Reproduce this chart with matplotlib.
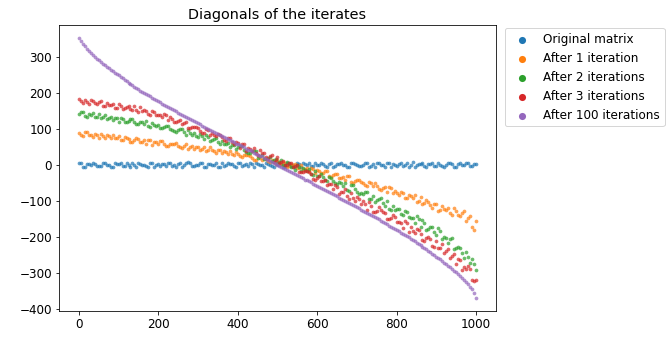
import matplotlib
matplotlib.use("Agg")
import matplotlib.pyplot as plt

plt.rcParams['font.size'] = 12

# diagonal entry index, every 5 entries
index = list(range(0, 1001, 10))
index_mid = list(range(5, 1000, 10))

original = [6, -6, 3, -2, 1, -4, 5, -1, -6, 4, 2, -3, 6, -5, 0, 4, -1, -4, 6, -7,
            3, 1, -4, 5, -2, 1, -6, 4, 6, -3, -1, 4, -5, 2, 0, -6, 6, -1, 3, -4,
            5, -4, 1, 4, -6, 2, -2, 6, -1, -5, 1,
            2, -5, 6, -1, 4, -6, 1, 5, -4, -1, 6, -4, 3, -6, 1, 4, -2, -7, 6, 0,
            -3, 5, -5, 2, 4, -1, -6, 6, 1, -4, 4, -1, -6, 7, -2, 3, -4, 1, 5, -3,
            0, -6, 4, 2, -5, 6, -1, 4, -4, 1]
original_mid = [4, -6, 1, 6, -3, -4, 5, -1, -6, 2, 4, -4, -1, 6, -5, 3, -2, -6, 6, 0,
                -4, 1, 5, -3, -6, 4, -1, 7, -4, -2, 4, -6, 2, -1, 6, -5, -3, 4, 1, -6,
                5, -1, -4, 3, 6, -2, -6, 1, -4, 4, 0, -5, 6, -3, -6, 2, 4, -1, -4, 6,
                -2, 1, -6, 4, -4, 3, -1, -6, 5, 1, -4, 0, 6, -3, -5, 4, -1, 6, -6, -2,
                3, -4, 5, -1, -7, 2, 4, -5, 1, -3, 6, -4, 0, 4, -6, 1, -2, 5, -4, 3]

iter1 = [89, 81, 91, 83, 86, 75, 81, 84, 74, 75, 81, 69, 75, 64, 70, 71, 64, 58, 69, 62,
         58, 65, 53, 59, 59, 53, 46, 57, 50, 44, 50, 43, 37, 48, 38, 41, 32, 35, 38, 28,
         29, 21, 28, 24, 14, 23, 14, 17, 7, 9, 12, -2, 5, -3, -2, -9, -2, -11, -18, -12,
         -15, -24, -16, -32, -29, -27, -37, -42, -32, -51, -41, -47, -56, -48, -60, -58,
         -70, -62, -63, -78, -78, -76, -91, -85, -92, -104, -89, -106, -104, -119, -109,
         -127, -122, -121, -140, -129, -142, -128, -149, -172, -156]
iter1_mid = [83, 91, 84, 77, 84, 85, 75, 79, 83, 73, 70, 76, 72, 64, 73, 64, 68, 70, 56, 62,
             65, 58, 53, 59, 61, 50, 53, 43, 52, 49, 41, 49, 40, 41, 33, 42, 38, 30, 31, 36,
             23, 27, 27, 18, 12, 18, 20, 10, 13, 3, 5, 8, -5, 1, 2, -8, -12, -10, -9, -22,
             -16, -22, -17, -33, -26, -37, -34, -30, -47, -45, -41, -50, -60, -52, -52, -66,
             -64, -77, -65, -73, -83, -79, -93, -88, -85, -102, -109, -98, -112, -110,
             -128, -114, -125, -135, -121, -139, -134, -157, -141, -180]

iter2 = [141, 146, 134, 139, 133, 141, 132, 126, 133, 129, 120, 128, 120, 127, 119, 114,
         118, 121, 106, 110, 111, 101, 108, 99, 95, 97, 99, 84, 87, 89, 78, 80, 82, 65, 71,
         63, 66, 58, 50, 55, 48, 52, 36, 32, 37, 20, 26, 15, 22, 12, 2, 14, -1, 3, -6, -2,
         -17, -14, -11, -28, -30, -27, -43, -34, -45, -54, -52, -52, -74, -55, -77, -78,
         -75, -95, -88, -99, -93, -114, -124, -114, -124, -138, -128, -146, -147, -142,
         -173, -163, -178, -172, -196, -183, -202, -216, -204, -230, -231, -258, -257,
         -262, -293]
iter2_mid = [146, 135, 140, 144, 133, 130, 137, 129, 123, 129, 129, 120, 121, 126, 114, 120,
             113, 107, 117, 109, 103, 106, 107, 97, 91, 98, 90, 96, 83, 81, 85, 72, 76, 70,
             73, 59, 58, 61, 54, 44, 52, 40, 32, 37, 37, 23, 15, 20, 11, 17, 8, -1, 9, -6,
             -14, -6, -9, -18, -26, -17, -32, -33, -45, -37, -52, -48, -58, -71, -57, -67,
             -82, -80, -75, -94, -103, -94, -107, -100, -126, -126, -123, -140, -131, -147,
             -162, -152, -154, -180, -174, -188, -177, -205, -204, -205, -234, -227, -245,
             -242, -273, -275]

iter3 = [182, 172, 175, 181, 171, 173, 163, 171, 167, 159, 168, 156, 161, 155, 162, 146,
         150, 150, 139, 147, 138, 132, 138, 132, 118, 122, 114, 118, 102, 104, 102, 87, 98,
         83, 82, 85, 76, 65, 73, 59, 60, 58, 39, 43, 46, 28, 32, 22, 25, 8, 21, 9, -1, 5,
         -7, -1, -21, -17, -20, -40, -36, -46, -41, -53, -67, -63, -77, -66, -95, -92, -89,
         -110, -108, -104, -132, -129, -126, -134, -152, -140, -160, -161, -156, -187,
         -185, -179, -191, -213, -202, -225, -211, -232, -246, -235, -252, -276, -265,
         -285, -281, -319, -321]
iter3_mid = [176, 181, 170, 176, 170, 177, 164, 166, 170, 157, 164, 158, 163, 151, 152, 160,
             151, 141, 148, 137, 139, 140, 123, 127, 118, 124, 117, 103, 105, 106, 95, 87, 96,
             87, 79, 82, 69, 75, 64, 62, 47, 57, 47, 37, 34, 41, 32, 15, 26, 14, 4, 11, 0, 5,
             -4, -21, -21, -17, -26, -41, -30, -46, -57, -54, -57, -80, -75, -86, -78, -102,
             -96, -100, -125, -114, -130, -117, -130, -150, -149, -144, -158, -176, -161,
             -174, -189, -180, -210, -203, -205, -229, -231, -221, -239, -260, -249, -261,
             -291, -290, -289, -324]

iter100 = [352, 336, 322, 310, 300, 290, 281, 272, 264, 256, 248, 240, 232, 225, 217, 210,
           203, 196, 190, 183, 177, 170, 164, 157, 151, 145, 139, 133, 127, 121, 115, 109,
           103, 97, 91, 85, 79, 74, 68, 62, 57, 51, 45, 40, 34, 28, 23, 17, 11, 6, 0, -6,
           -11, -18, -24, -29, -35, -41, -46, -53, -59, -64, -70, -76, -81, -88, -94, -100,
           -106, -112, -118, -125, -131, -137, -143, -149, -156, -162, -169, -175, -182,
           -189, -196, -202, -209, -216, -224, -231, -239, -247, -255, -263, -272, -280,
           -289, -299, -309, -319, -332, -346, -370]
iter100_mid = [343, 329, 316, 305, 295, 285, 276, 268, 260, 252, 244, 236, 228, 221, 213,
               206, 199, 193, 186, 180, 173, 167, 160, 154, 148, 142, 136, 130, 124, 118,
               112, 106, 100, 94, 88, 82, 76, 71, 65, 59, 54, 48, 42, 37, 31, 25, 20, 14, 8,
               3, -3, -8, -14, -21, -26, -32, -38, -43, -49, -56, -61, -67, -73, -78, -84,
               -91, -97, -103, -109, -115, -121, -128, -134, -140, -146, -152, -159, -165,
               -172, -178, -185, -192, -199, -205, -212, -220, -227, -235, -243, -251, -259,
               -267, -276, -284, -294, -304, -314, -325, -339, -357]

series = [(original, original_mid), (iter1, iter1_mid), (iter2, iter2_mid),
          (iter3, iter3_mid), (iter100, iter100_mid)]
labels = ['Original matrix', 'After 1 iteration', 'After 2 iterations',
          'After 3 iterations', 'After 100 iterations']

fig = plt.figure(figsize=(668 / 72, 338 / 72), dpi=72)
ax = fig.add_axes([0.0883, 0.0799, 0.6542, 0.8461])

for (values, values_mid), label in zip(series, labels):
    ax.scatter(index + index_mid, values + values_mid, s=14, alpha=0.7,
               linewidths=0, label=label)

ax.set_title('Diagonals of the iterates')
leg = ax.legend(loc='upper left', bbox_to_anchor=(1.02, 0.99), borderaxespad=0,
                markerscale=1.9)
for h in leg.legend_handles:
    h.set_alpha(1)

fig.savefig('out.png', dpi=72)
